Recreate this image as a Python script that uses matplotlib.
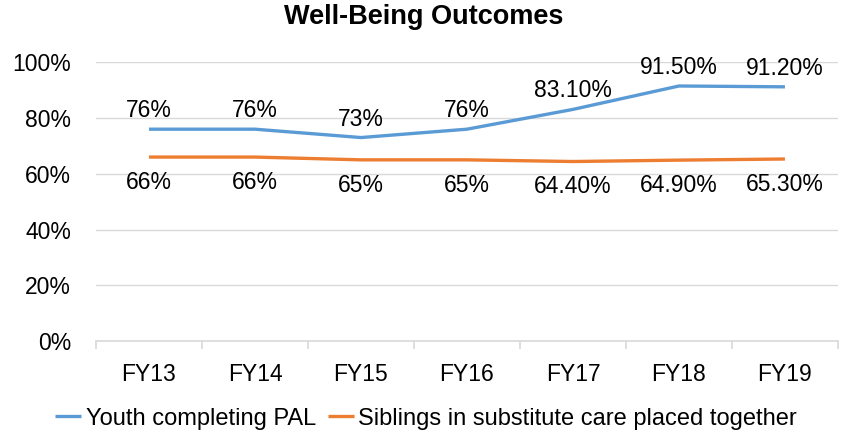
import matplotlib
matplotlib.use("Agg")
import matplotlib.pyplot as plt
from matplotlib.ticker import FixedLocator, PercentFormatter

plt.rcParams['font.family'] = ['Liberation Sans', 'DejaVu Sans']

# data
years = ["FY13", "FY14", "FY15", "FY16", "FY17", "FY18", "FY19"]
pal = [76, 76, 73, 76, 83.1, 91.5, 91.2]
pal_labels = ["76%", "76%", "73%", "76%", "83.10%", "91.50%", "91.20%"]
siblings = [66, 66, 65, 65, 64.4, 64.9, 65.3]
sib_labels = ["66%", "66%", "65%", "65%", "64.40%", "64.90%", "65.30%"]

blue = "#5B9BD5"
orange = "#ED7D31"
grid = "#D9D9D9"

fig = plt.figure(figsize=(8.47, 4.36), dpi=100)
ax = fig.add_axes([0.1133, 0.2179, 0.876, 0.6392])

x = list(range(len(years)))
ax.plot(x, pal, color=blue, lw=2.4, solid_joinstyle="round", solid_capstyle="butt",
        label="Youth completing PAL")
ax.plot(x, siblings, color=orange, lw=2.4, solid_joinstyle="round", solid_capstyle="butt",
        label="Siblings in substitute care placed together")

for xi, v, s in zip(x, pal, pal_labels):
    ax.annotate(s, (xi, v), xytext=(0, 5), textcoords="offset points",
                ha="center", va="bottom", fontsize=16.5)
for xi, v, s in zip(x, siblings, sib_labels):
    ax.annotate(s, (xi, v), xytext=(0, -10), textcoords="offset points",
                ha="center", va="top", fontsize=16.5)

ax.set_xlim(-0.5, len(years) - 0.5)
ax.set_ylim(0, 100)
ax.yaxis.set_major_locator(FixedLocator([0, 20, 40, 60, 80, 100]))
ax.yaxis.set_major_formatter(PercentFormatter(decimals=0))
ax.set_xticks(x)
ax.set_xticklabels(years)
ax.set_xticks([i - 0.5 for i in range(len(years) + 1)], minor=True)
ax.tick_params(axis="x", which="major", length=0, pad=16, labelsize=16.5)
ax.tick_params(axis="x", which="minor", length=6, color=grid, width=1.2)
ax.tick_params(axis="y", length=0, pad=18, labelsize=16.5)

ax.grid(axis="y", color=grid, lw=1)
ax.set_axisbelow(True)
for side in ["top", "right", "left"]:
    ax.spines[side].set_visible(False)
ax.spines["bottom"].set_color(grid)
ax.spines["bottom"].set_linewidth(1.2)

fig.text(0.5, 0.962, "Well-Being Outcomes", ha="center", va="center",
         fontsize=19.5, fontweight="bold")
fig.legend(loc="center", bbox_to_anchor=(0.503, 0.04), ncol=2, frameon=False,
           fontsize=17, handlelength=1.1, handletextpad=0.2, columnspacing=0.5,
           borderpad=0, borderaxespad=0)

fig.savefig("out.png", dpi=100)
